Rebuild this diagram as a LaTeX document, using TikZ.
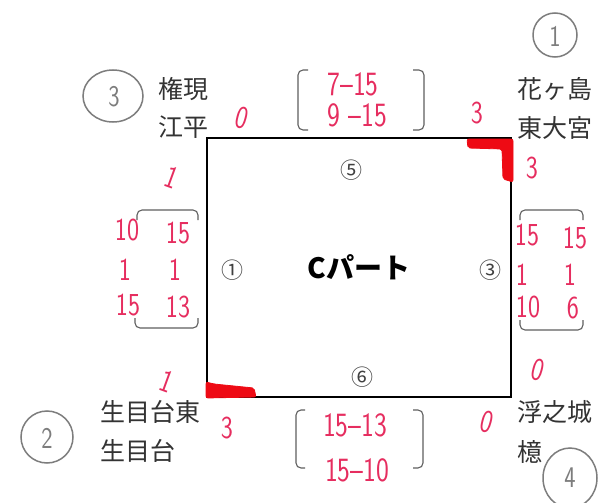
\documentclass[tikz,border=0pt]{standalone}
\usepackage{fontspec}
\newfontfamily\jp{Noto Sans CJK JP}
\definecolor{ink}{RGB}{230,45,95}
\definecolor{marker}{RGB}{238,10,20}
\definecolor{pencil}{RGB}{125,125,125}
\definecolor{brk}{RGB}{95,95,95}
\newcommand{\nar}[1]{\scalebox{0.8}[1]{#1}}
\tikzset{
  jpname/.style={anchor=west,inner sep=0pt,font=\jp\fontsize{25}{27}\selectfont,text=black!80},
  hand/.style={inner sep=0pt,text=ink,font=\sffamily\fontsize{32}{34}\selectfont},
  handbig/.style={inner sep=0pt,text=ink,font=\sffamily\fontsize{34}{36}\selectfont},
  circnum/.style={inner sep=0pt,text=black!75,font=\jp\fontsize{22}{24}\selectfont},
  pencircle/.style={draw=pencil,line width=1.5pt},
  pennum/.style={inner sep=0pt,text=pencil,font=\sffamily\fontsize{30}{32}\selectfont},
  bracket/.style={draw=brk,line width=1.1pt,rounded corners=5pt},
  redmark/.style={fill=marker,draw=marker,line width=0.8pt,rounded corners=2pt}
}
\begin{document}
\begin{tikzpicture}[x=1pt,y=-1pt]
\useasboundingbox (0,0) rectangle (608,503);
\fill[white] (0,0) rectangle (608,503);
% main box
\node[draw,line width=2.6pt,minimum width=304pt,minimum height=259pt,inner sep=0pt,
      font=\jp\bfseries\fontsize{28}{30}\selectfont] (box) at (359,267.5) {Cパート};
% red marker strokes
\path[redmark] (467,139) -- (513,139) -- (513,182) -- (503,179) -- (502,149) -- (468,148) -- cycle;
\path[redmark] (206,382) -- (214,384) -- (254,388) -- (256,397) -- (206,398) -- cycle;
% pencil circles
\draw[pencircle] (113,96) ellipse [x radius=30, y radius=26];
\node[pennum] (p3) at (114,97) {\nar{3}};
\draw[pencircle] (555,35) circle [radius=22];
\node[pennum] (p1) at (555,36) {\nar{1}};
\draw[pencircle] (47,437) circle [radius=26];
\node[pennum] (p2) at (47,438) {\nar{2}};
\draw[pencircle] (570,478) ellipse [x radius=27, y radius=30];
\node[pennum] (p4) at (570,478) {\nar{4}};
% station names
\node[jpname] (n1) at (158,89) {権現};
\node[jpname] (n2) at (158,127) {江平};
\node[jpname] (n3) at (517,89) {花ヶ島};
\node[jpname] (n4) at (517,128) {東大宮};
\node[jpname] (n5) at (100,412) {生目台東};
\node[jpname] (n6) at (100,451) {生目台};
\node[jpname] (n7) at (517,412) {浮之城};
\node[jpname] (n8) at (517,452) {檍};
% circled numbers
\node[circnum] (c5) at (351,170) {⑤};
\node[circnum] (c1) at (232,270) {①};
\node[circnum] (c3) at (490,270) {③};
\node[circnum] (c6) at (362,377) {⑥};
% red corner numbers
\node[hand,rotate=-15] (a1) at (242,118) {\nar{0}};
\node[hand] (a2) at (477,113) {\nar{3}};
\node[hand] (a3) at (532,168) {\nar{3}};
\node[hand,rotate=-20] (a4) at (172,177) {\nar{1}};
\node[hand,rotate=-20] (a5) at (167,381) {\nar{1}};
\node[hand] (a6) at (227,428) {\nar{3}};
\node[hand,rotate=-15] (a7) at (538,370) {\nar{0}};
\node[hand,rotate=-15] (a8) at (487,422) {\nar{0}};
% top bracket
\draw[bracket] (308,70) -- (298,70) -- (298,130) -- (308,130);
\draw[bracket] (413,70) -- (424,70) -- (424,130) -- (413,130);
\node[handbig] (t1) at (353,84) {\nar{7–15}};
\node[handbig] (t2) at (357,115) {\nar{9 –15}};
% bottom bracket
\draw[bracket] (305,410) -- (296,410) -- (296,468) -- (305,468);
\draw[bracket] (413,410) -- (423,410) -- (423,468) -- (413,468);
\node[handbig] (b1) at (355,425) {\nar{15–13}};
\node[handbig] (b2) at (357,470) {\nar{15–10}};
% left bracket
\draw[bracket] (137,220) -- (137,210) -- (198,210) -- (198,220);
\draw[bracket] (135,318) -- (135,328) -- (198,328) -- (198,318);
\node[hand] (l1) at (127,230) {\nar{10}};
\node[hand] (l2) at (178,233) {\nar{15}};
\node[hand] (l3) at (125,270) {\nar{1}};
\node[hand] (l4) at (175,270) {\nar{1}};
\node[hand] (l5) at (128,305) {\nar{15}};
\node[hand] (l6) at (178,307) {\nar{13}};
% right bracket
\draw[bracket] (520,220) -- (520,210) -- (583,210) -- (583,220);
\draw[bracket] (520,320) -- (520,330) -- (583,330) -- (583,320);
\node[hand] (r1) at (527,235) {\nar{15}};
\node[hand] (r2) at (575,238) {\nar{15}};
\node[hand] (r3) at (522,275) {\nar{1}};
\node[hand] (r4) at (570,275) {\nar{1}};
\node[hand] (r5) at (528,307) {\nar{10}};
\node[hand] (r6) at (573,308) {\nar{6}};
\end{tikzpicture}
\end{document}
